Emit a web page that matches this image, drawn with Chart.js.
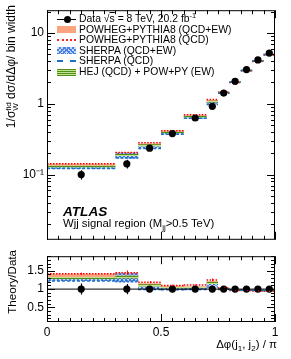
<!DOCTYPE html>
<html>
<head>
<meta charset="utf-8">
<script src="https://cdn.jsdelivr.net/npm/chart.js@4.4.1/dist/chart.umd.min.js"></script>
<style>
    body { margin: 0; background: #ffffff; }
    #wrap { position: relative; width: 291px; height: 359px; font-family: "Liberation Sans", Arial, sans-serif; color: #000; }
    .cv { position: absolute; left: 0; }
    .txt { position: absolute; white-space: nowrap; line-height: 1; }
    .legend { position: absolute; left: 0; top: 0; font-size: 10.4px; }
    .row { position: absolute; left: 0; height: 10px; white-space: nowrap; }
    .sym { position: absolute; left: 57px; width: 19px; height: 7px; top: 1.5px; }
    .lab { position: absolute; left: 79px; top: 0; line-height: 10px; }
    sub, sup { font-size: 70%; line-height: 0; }
    .rot { position: absolute; transform: rotate(-90deg); transform-origin: left top; text-align: right; white-space: nowrap; line-height: 14px; }
</style>
</head>
<body>
<div id="wrap">
    <canvas id="mainChart" class="cv" width="291" height="250" style="top:0"></canvas>
    <canvas id="ratioChart" class="cv" width="291" height="113" style="top:246px"></canvas>

    <div class="legend">
        <div class="row" style="top:14px">
            <div class="sym" style="height:1px;top:4.5px;background:#000"></div>
            <div class="sym" style="left:63.5px;width:7px;height:7px;top:1.5px;border-radius:50%;background:#000"></div>
            <div class="lab">Data &#8730;<span style="text-decoration:overline">s</span> = 8 TeV, 20.2 fb<sup>-1</sup></div>
        </div>
        <div class="row" style="top:24.6px">
            <div class="sym" style="background:#fba27f"></div>
            <div class="lab">POWHEG+PYTHIA8 (QCD+EW)</div>
        </div>
        <div class="row" style="top:35.2px">
            <div class="sym" style="height:0;top:4px;border-top:2px dotted #ff2020"></div>
            <div class="lab">POWHEG+PYTHIA8 (QCD)</div>
        </div>
        <div class="row" style="top:45.8px">
            <div class="sym" style="background:repeating-linear-gradient(45deg,#4a7fe0 0 1px,transparent 1px 3px),repeating-linear-gradient(-45deg,#4a7fe0 0 1px,#c9dbfa 1px 3px)"></div>
            <div class="lab">SHERPA (QCD+EW)</div>
        </div>
        <div class="row" style="top:56.4px">
            <div class="sym" style="height:0;top:4px;border-top:2px dashed #1f6fc6"></div>
            <div class="lab">SHERPA (QCD)</div>
        </div>
        <div class="row" style="top:67px">
            <div class="sym" style="background:repeating-linear-gradient(180deg,#4f8e17 0 1px,#c2e28f 1px 2px)"></div>
            <div class="lab">HEJ (QCD) + POW+PY (EW)</div>
        </div>
    </div>

    <div class="txt" style="left:63px;top:205px;font-size:13.6px;font-weight:bold;font-style:italic">ATLAS</div>
    <div class="txt" style="left:63px;top:218px;font-size:11.3px">Wjj signal region (M<sub>jj</sub>&gt;0.5 TeV)</div>

    <div class="rot" style="left:4px;top:205px;width:200px;font-size:12px">1/&#963;<span style="display:inline-block;vertical-align:-3px;font-size:8px;line-height:7px;text-align:left">fid<br>W</span> d&#963;/d&#916;&#966;/ bin width</div>
    <div class="rot" style="left:5px;top:350px;width:100px;font-size:11.6px">Theory/Data</div>
    <div class="txt" style="right:14px;top:339px;font-size:11.5px">&#916;&#966;(j<sub>1</sub>, j<sub>2</sub>) / &#960;</div>
</div>

<script>
const binEdges = [0, 0.3, 0.4, 0.5, 0.6, 0.7, 0.75, 0.8, 0.85, 0.9, 0.95, 1.0];
const binCenters = [0.15, 0.35, 0.45, 0.55, 0.65, 0.725, 0.775, 0.825, 0.875, 0.925, 0.975];

// top panel: normalised cross section per bin
const dataValues = [0.100, 0.142, 0.236, 0.380, 0.630, 0.920, 1.42, 2.08, 3.04, 4.17, 5.20];
const dataErrors = [0.015, 0.020, 0.016, 0.020, 0.030, 0.065, 0.06, 0.07, 0.09, 0.11, 0.14];
const powhegEwValues = [0.137, 0.196, 0.267, 0.407, 0.668, 1.095, 1.45, 2.02, 2.95, 4.00, 4.94];
const powhegEwErrors = [0.005, 0.010, 0.008, 0.012, 0.020, 0.035, 0.045, 0.06, 0.09, 0.12, 0.15];
const powhegQcdValues = [0.142, 0.206, 0.281, 0.418, 0.699, 1.150, 1.46, 2.00, 2.92, 3.96, 4.89];
const sherpaEwValues = [0.125, 0.186, 0.243, 0.380, 0.636, 1.030, 1.42, 2.04, 2.95, 4.00, 4.99];
const sherpaEwErrors = [0.004, 0.018, 0.007, 0.011, 0.019, 0.030, 0.04, 0.06, 0.09, 0.12, 0.15];
const sherpaQcdValues = [0.122, 0.173, 0.234, 0.372, 0.624, 0.975, 1.41, 2.04, 2.95, 4.04, 4.99];
const hejValues = [0.130, 0.189, 0.260, 0.395, 0.655, 1.076, 1.43, 2.04, 2.95, 4.00, 4.94];
const hejErrors = [0.004, 0.006, 0.008, 0.012, 0.020, 0.030, 0.04, 0.06, 0.09, 0.12, 0.15];

// bottom panel: theory / data
const dataRatioErrors = [0.15, 0.14, 0.07, 0.05, 0.05, 0.07, 0.04, 0.03, 0.03, 0.03, 0.03];
const powhegEwRatio = [1.37, 1.38, 1.13, 1.07, 1.06, 1.19, 1.02, 0.97, 0.97, 0.96, 0.95];
const powhegEwRatioErr = [0.05, 0.07, 0.03, 0.02, 0.02, 0.03, 0.02, 0.02, 0.02, 0.02, 0.02];
const powhegQcdRatio = [1.42, 1.45, 1.19, 1.10, 1.11, 1.25, 1.03, 0.96, 0.96, 0.95, 0.94];
const powhegQcdRatioErr = [0.03, 0.06, 0.03, 0.02, 0.02, 0.04, 0.02, 0.02, 0.02, 0.02, 0.02];
const sherpaEwRatio = [1.25, 1.31, 1.03, 1.00, 1.01, 1.12, 1.00, 0.98, 0.97, 0.96, 0.96];
const sherpaEwRatioErr = [0.03, 0.13, 0.03, 0.02, 0.02, 0.03, 0.02, 0.02, 0.02, 0.02, 0.02];
const sherpaQcdRatio = [1.22, 1.22, 0.99, 0.98, 0.99, 1.06, 0.99, 0.98, 0.97, 0.97, 0.96];
const hejRatio = [1.30, 1.33, 1.10, 1.04, 1.04, 1.17, 1.01, 0.98, 0.97, 0.96, 0.95];
const hejRatioErr = [0.03, 0.04, 0.03, 0.02, 0.02, 0.03, 0.02, 0.02, 0.02, 0.02, 0.02];

// axis labels
const xTickValues = [0, 0.5, 1];
const xTickLabels = ["0", "0.5", "1"];
const yTickValues = [0.1, 1, 10];
const yTickLabels = ["10\u207B\u00B9", "1", "10"];
const ratioTickValues = [0.5, 1, 1.5];
const ratioTickLabels = ["0.5", "1", "1.5"];

const FONT = "Liberation Sans";
Chart.defaults.font.family = FONT;
Chart.defaults.color = "#000";
Chart.defaults.animation = false;

function makePattern(size, paint) {
    const c = document.createElement("canvas");
    c.width = size;
    c.height = size;
    paint(c.getContext("2d"));
    return c.getContext("2d").createPattern(c, "repeat");
}

const sherpaPattern = makePattern(4, function (g) {
    g.fillStyle = "rgba(150, 185, 245, 0.55)";
    g.fillRect(0, 0, 4, 4);
    g.fillStyle = "#3b6fdc";
    for (let i = 0; i < 4; i++) {
        g.fillRect(i, i, 1, 1);
        g.fillRect(3 - i, i, 1, 1);
    }
});

const hejPattern = makePattern(2, function (g) {
    g.fillStyle = "#c2e28f";
    g.fillRect(0, 0, 2, 2);
    g.fillStyle = "#4f8e17";
    g.fillRect(0, 0, 2, 1);
});

function stepPoints(values) {
    const pts = values.map((v, i) => ({ x: binEdges[i], y: v }));
    pts.push({ x: binEdges[binEdges.length - 1], y: values[values.length - 1] });
    return pts;
}

function segmentPoints(values) {
    const pts = [];
    values.forEach((v, i) => {
        pts.push({ x: binEdges[i], y: v });
        pts.push({ x: binEdges[i + 1], y: v });
        pts.push({ x: binEdges[i + 1], y: null });
    });
    return pts;
}

function shifted(values, errors, sign) {
    return values.map((v, i) => v + sign * errors[i]);
}

function lineSet(values, color, dash) {
    return {
        data: segmentPoints(values),
        borderColor: color,
        borderWidth: 1.5,
        borderDash: dash,
        pointRadius: 0,
        spanGaps: false,
        fill: false
    };
}

function bandSets(values, errors, fillStyle, datasets) {
    const lowerIndex = datasets.length;
    datasets.push({
        data: stepPoints(shifted(values, errors, -1)),
        borderColor: "transparent",
        borderWidth: 0,
        pointRadius: 0,
        stepped: "before",
        fill: false
    });
    datasets.push({
        data: stepPoints(shifted(values, errors, 1)),
        borderColor: "transparent",
        borderWidth: 0,
        backgroundColor: fillStyle,
        pointRadius: 0,
        stepped: "before",
        fill: lowerIndex
    });
}

function pointSet(values) {
    return {
        data: values.map((v, i) => ({ x: binCenters[i], y: v })),
        showLine: false,
        pointRadius: 3.6,
        pointBackgroundColor: "#000",
        pointBorderColor: "#000",
        pointBorderWidth: 0
    };
}

// inner frame ticks, ROOT style
const frameTicks = {
    id: "frameTicks",
    afterDatasetsDraw(chart, args, opts) {
        const ctx = chart.ctx;
        const a = chart.chartArea;
        const xs = chart.scales.x;
        const ys = chart.scales.y;
        ctx.save();
        ctx.strokeStyle = "#000";
        ctx.lineWidth = 1;
        ctx.strokeRect(a.left + 0.5, a.top + 0.5, a.right - a.left - 1, a.bottom - a.top - 1);
        ctx.beginPath();
        opts.xTicks.forEach(t => {
            const px = Math.round(xs.getPixelForValue(t[0])) + 0.5;
            ctx.moveTo(px, a.bottom);
            ctx.lineTo(px, a.bottom - t[1]);
            ctx.moveTo(px, a.top);
            ctx.lineTo(px, a.top + t[1]);
        });
        opts.yTicks.forEach(t => {
            const py = Math.round(ys.getPixelForValue(t[0])) + 0.5;
            if (py < a.top || py > a.bottom) {
                return;
            }
            ctx.moveTo(a.left, py);
            ctx.lineTo(a.left + t[1], py);
            ctx.moveTo(a.right, py);
            ctx.lineTo(a.right - t[1], py);
        });
        ctx.stroke();
        ctx.restore();
    }
};

// vertical error bars at bin centres
const errorBars = {
    id: "errorBars",
    afterDatasetsDraw(chart, args, opts) {
        const ctx = chart.ctx;
        const xs = chart.scales.x;
        const ys = chart.scales.y;
        ctx.save();
        opts.sets.forEach(set => {
            ctx.strokeStyle = set.color;
            ctx.lineWidth = set.width;
            ctx.beginPath();
            set.values.forEach((v, i) => {
                const px = Math.round(xs.getPixelForValue(binCenters[i])) + 0.5;
                ctx.moveTo(px, ys.getPixelForValue(v - set.errors[i]));
                ctx.lineTo(px, ys.getPixelForValue(v + set.errors[i]));
            });
            ctx.stroke();
        });
        ctx.restore();
    }
};

const xFrameTicks = [];
for (let i = 0; i <= 20; i++) {
    xFrameTicks.push([i * 0.05, i % 10 === 0 ? 8 : 4]);
}
const yFrameTicks = [];
for (let e = -2; e <= 1; e++) {
    for (let k = 1; k <= 9; k++) {
        yFrameTicks.push([k * Math.pow(10, e), k === 1 ? 8 : 4]);
    }
}
const ratioFrameTicks = [];
for (let i = 1; i <= 19; i++) {
    ratioFrameTicks.push([i * 0.1, i % 5 === 0 ? 8 : 4]);
}

function tickLabeller(values, labels) {
    return function (value) {
        const idx = values.findIndex(v => Math.abs(v - value) < 1e-9);
        return idx >= 0 ? labels[idx] : "";
    };
}

// ---- top panel ----
const mainSets = [];
mainSets.push(pointSet(dataValues));
mainSets.push(lineSet(sherpaQcdValues, "#1f6fc6", [3, 2]));
mainSets.push(lineSet(powhegQcdValues, "#ff0000", [1.5, 1.5]));
bandSets(hejValues, hejErrors, hejPattern, mainSets);
bandSets(sherpaEwValues, sherpaEwErrors, sherpaPattern, mainSets);
bandSets(powhegEwValues, powhegEwErrors, "#fba27f", mainSets);

new Chart(document.getElementById("mainChart"), {
    type: "line",
    data: { datasets: mainSets },
    options: {
        responsive: false,
        layout: { padding: { top: 8, right: 16, bottom: 7, left: 0 } },
        plugins: {
            legend: { display: false },
            tooltip: { enabled: false },
            frameTicks: { xTicks: xFrameTicks, yTicks: yFrameTicks },
            errorBars: { sets: [{ values: dataValues, errors: dataErrors, color: "#000", width: 1.2 }] }
        },
        scales: {
            x: { type: "linear", min: 0, max: 1, display: false },
            y: {
                type: "logarithmic",
                min: 0.012,
                max: 21,
                afterFit(scale) { scale.width = 47; },
                afterBuildTicks(scale) { scale.ticks = yTickValues.map(v => ({ value: v })); },
                grid: { display: false, drawTicks: false },
                border: { display: false },
                ticks: {
                    padding: 3,
                    autoSkip: false,
                    font: { size: 12 },
                    callback: tickLabeller(yTickValues, yTickLabels)
                }
            }
        }
    },
    plugins: [frameTicks, errorBars]
});

// ---- ratio panel ----
const ratioSets = [];
ratioSets.push(pointSet(dataValues.map(() => 1)));
ratioSets.push({
    data: [{ x: 0, y: 1 }, { x: 1, y: 1 }],
    borderColor: "#000",
    borderWidth: 1,
    pointRadius: 0,
    fill: false
});
ratioSets.push(lineSet(sherpaQcdRatio, "#1f6fc6", [3, 2]));
ratioSets.push(lineSet(powhegQcdRatio, "#ff0000", [1.5, 1.5]));
bandSets(hejRatio, hejRatioErr, hejPattern, ratioSets);
bandSets(sherpaEwRatio, sherpaEwRatioErr, sherpaPattern, ratioSets);
bandSets(powhegEwRatio, powhegEwRatioErr, "#fba27f", ratioSets);

new Chart(document.getElementById("ratioChart"), {
    type: "line",
    data: { datasets: ratioSets },
    options: {
        responsive: false,
        layout: { padding: { top: 4, right: 16, bottom: 0, left: 0 } },
        plugins: {
            legend: { display: false },
            tooltip: { enabled: false },
            frameTicks: { xTicks: xFrameTicks, yTicks: ratioFrameTicks },
            errorBars: {
                sets: [
                    { values: powhegQcdRatio, errors: powhegQcdRatioErr, color: "#ff0000", width: 1 },
                    { values: dataValues.map(() => 1), errors: dataRatioErrors, color: "#000", width: 1.2 }
                ]
            }
        },
        scales: {
            x: {
                type: "linear",
                min: 0,
                max: 1,
                afterFit(scale) { scale.height = 37; },
                afterBuildTicks(scale) { scale.ticks = xTickValues.map(v => ({ value: v })); },
                grid: { display: false, drawTicks: false },
                border: { display: false },
                ticks: {
                    padding: 3,
                    autoSkip: false,
                    maxRotation: 0,
                    font: { size: 12 },
                    callback: tickLabeller(xTickValues, xTickLabels)
                }
            },
            y: {
                type: "linear",
                min: 0.1,
                max: 1.9,
                afterFit(scale) { scale.width = 47; },
                afterBuildTicks(scale) { scale.ticks = ratioTickValues.map(v => ({ value: v })); },
                grid: { display: false, drawTicks: false },
                border: { display: false },
                ticks: {
                    padding: 3,
                    autoSkip: false,
                    font: { size: 12 },
                    callback: tickLabeller(ratioTickValues, ratioTickLabels)
                }
            }
        }
    },
    plugins: [frameTicks, errorBars]
});
</script>
</body>
</html>
